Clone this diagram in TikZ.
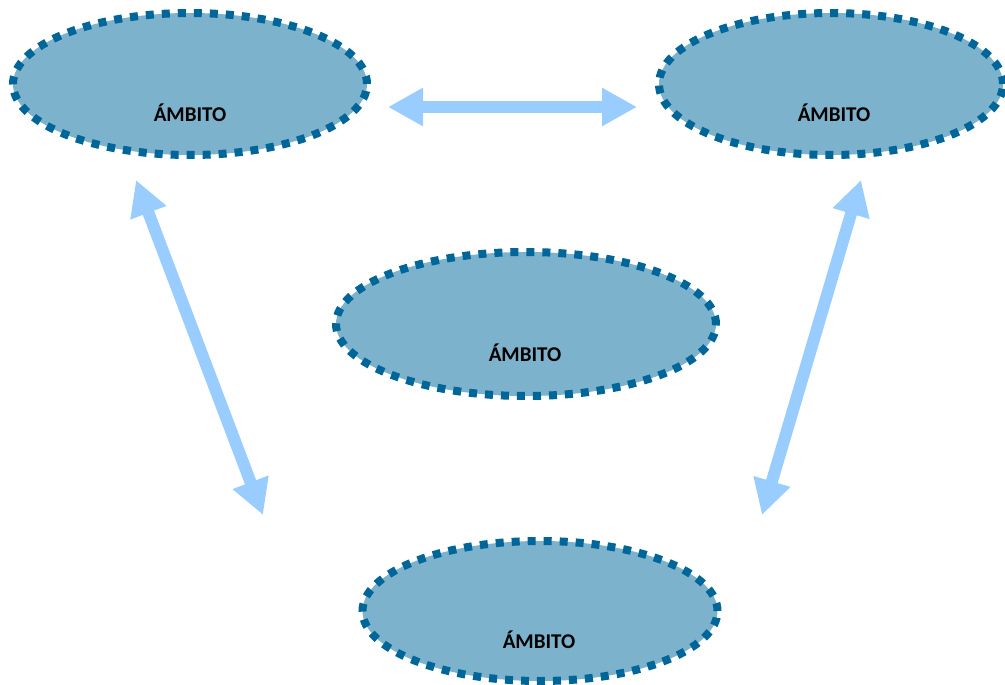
\documentclass[tikz,border=0pt]{standalone}
\usepackage{fontspec}
\setmainfont{Carlito}
\usetikzlibrary{arrows.meta,shapes.geometric}
\definecolor{ambfill}{RGB}{124,178,204}
\definecolor{ambline}{RGB}{0,102,153}
\definecolor{arrowblue}{RGB}{153,204,255}
\tikzset{
  ambito/.style={ellipse, draw=ambline, fill=ambfill, line width=8pt,
    dash pattern=on 8pt off 8pt, inner sep=0pt},
  ambtext/.style={font=\bfseries\fontsize{21}{25}\selectfont, text=black, inner sep=0pt},
  dblarrow/.style={draw=arrowblue, line width=12pt,
    {Triangle[length=35pt,width=36pt]}-{Triangle[length=35pt,width=36pt]}}
}
\begin{document}
\begin{tikzpicture}[x=1pt,y=-1pt]
\useasboundingbox (0,0) rectangle (1005,685);
% ellipses
\node[ambito, minimum width=354pt, minimum height=142pt] (e1) at (190,84) {};
\node[ambito, minimum width=344pt, minimum height=142pt] (e2) at (831,84) {};
\node[ambito, minimum width=380pt, minimum height=144pt] (e3) at (526,324) {};
\node[ambito, minimum width=355pt, minimum height=140pt] (e4) at (540,611) {};
% texts
\node[ambtext] (t1) at (190,113) {ÁMBITO};
\node[ambtext] (t2) at (834,113) {ÁMBITO};
\node[ambtext] (t3) at (525,353) {ÁMBITO};
\node[ambtext] (t4) at (539,640) {ÁMBITO};
% arrow end points
\coordinate (h1) at (388,107);
\coordinate (h2) at (637,107);
\coordinate (l1) at (136,180);
\coordinate (l2) at (263,515);
\coordinate (r1) at (861,180);
\coordinate (r2) at (762,515);
% arrows
\draw[dblarrow] (h1) -- (h2);
\draw[dblarrow] (l1) -- (l2);
\draw[dblarrow] (r1) -- (r2);
\end{tikzpicture}
\end{document}
